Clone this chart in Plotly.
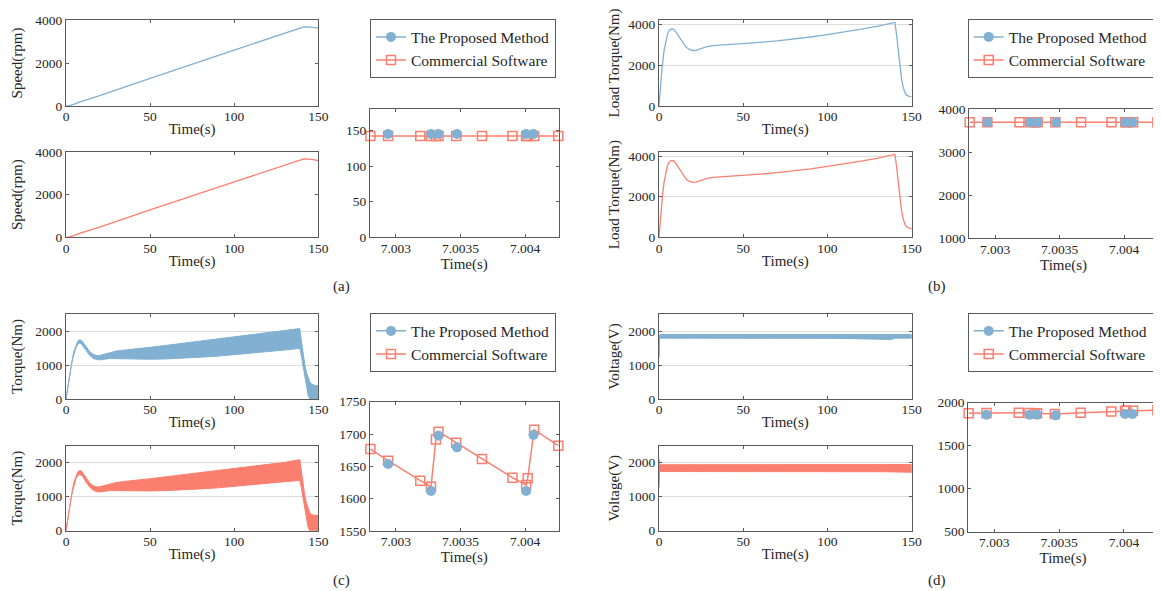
import plotly.graph_objects as go

# page body adds an 8px margin; figure coordinates are laid out in reference pixels minus that offset
OX, OY = 8, 8
W, H = 1161 - OX, 591 - OY
FONT = "Liberation Serif, Times New Roman, serif"
BLUE = "#82B0D2"
RED = "#FA7F6F"
AX = "#5a5a5a"
GRID = "#dcdcdc"

# ---------------- (a) speed ----------------
speed_t = [0, 2, 5, 8, 20, 50, 100, 130, 136, 139, 141, 143, 145, 147, 150]
speed_prop = [0, 20, 90, 180, 480, 1290, 2600, 3390, 3550, 3630, 3665, 3680, 3680, 3660, 3620]
speed_comm = [0, 20, 90, 180, 480, 1290, 2600, 3390, 3550, 3630, 3660, 3675, 3670, 3645, 3590]

# ---------------- (b) load torque ----------------
lt_t = [0, 1, 2, 3, 4, 5, 6, 7, 8, 9, 10, 12, 14, 16, 18, 20, 22, 25, 28, 32, 36, 40, 50, 60,
        70, 80, 90, 100, 110, 120, 130, 140, 141, 142, 143, 144, 145, 146, 147, 148.5, 150]
lt_prop = [0, 1100, 2000, 2700, 3200, 3500, 3680, 3750, 3760, 3720, 3620, 3350, 3080, 2880, 2760,
           2710, 2720, 2800, 2890, 2950, 2970, 2980, 3040, 3110, 3180, 3270, 3370, 3490, 3610, 3750,
           3900, 4080, 3500, 2700, 1900, 1300, 900, 650, 530, 470, 460]
lt_comm = [0, 1100, 2000, 2700, 3200, 3520, 3700, 3780, 3790, 3740, 3640, 3370, 3090, 2880, 2750,
           2700, 2720, 2800, 2890, 2950, 2970, 2980, 3040, 3110, 3180, 3270, 3370, 3490, 3610, 3750,
           3900, 4090, 3500, 2700, 1900, 1300, 900, 650, 520, 450, 430]

# ---------------- (c) electromagnetic torque (ripple envelope) ----------------
tq_t = [0, 1, 2, 3, 4, 5, 6, 7, 8, 9, 10, 12, 14, 16, 18, 20, 23, 26, 30, 35, 40, 50, 60, 70, 80,
        90, 100, 110, 120, 130, 139, 140, 141, 142, 143, 144, 145, 146, 148, 150]
tq_prop_upper = [0, 350, 700, 1000, 1250, 1450, 1600, 1700, 1740, 1730, 1680, 1530, 1400, 1320,
                 1280, 1280, 1320, 1370, 1410, 1440, 1460, 1520, 1580, 1640, 1700, 1760, 1820,
                 1880, 1940, 2000, 2070, 1700, 1300, 1000, 780, 600, 500, 440, 400, 390]
tq_prop_lower = [0, 330, 660, 950, 1190, 1380, 1520, 1610, 1640, 1630, 1580, 1420, 1290, 1200,
                 1160, 1150, 1170, 1190, 1200, 1190, 1180, 1170, 1180, 1200, 1230, 1260, 1300,
                 1340, 1390, 1440, 1490, 1250, 950, 650, 350, 100, 0, 0, 0, 0]
tq_comm_upper = [0, 350, 700, 1000, 1260, 1470, 1630, 1730, 1770, 1760, 1700, 1550, 1410, 1330,
                 1290, 1290, 1330, 1380, 1420, 1450, 1470, 1530, 1590, 1650, 1710, 1770, 1830,
                 1890, 1950, 2010, 2090, 1720, 1320, 1020, 800, 620, 520, 470, 450, 440]
tq_comm_lower = [0, 330, 660, 950, 1190, 1390, 1530, 1620, 1650, 1640, 1590, 1420, 1290, 1200,
                 1150, 1140, 1160, 1180, 1190, 1190, 1180, 1170, 1180, 1200, 1230, 1260, 1300,
                 1340, 1390, 1440, 1480, 1240, 940, 640, 340, 90, 0, 0, 0, 0]

# ---------------- (d) voltage (ripple envelope) ----------------
v_t = [0, 0.4, 1, 20, 50, 80, 110, 125, 132, 138, 140, 141, 145, 150]
v_prop_upper = [1250, 1900, 1900, 1900, 1895, 1895, 1895, 1895, 1900, 1915, 1900, 1900, 1900, 1900]
v_prop_lower = [1200, 1790, 1790, 1790, 1785, 1785, 1780, 1770, 1760, 1750, 1790, 1790, 1790, 1790]
v_comm_upper = [2120, 1940, 1940, 1940, 1935, 1935, 1935, 1935, 1940, 1945, 1940, 1940, 1940, 1945]
v_comm_lower = [1235, 1740, 1740, 1740, 1735, 1735, 1735, 1735, 1735, 1730, 1735, 1735, 1730, 1720]

# ---------------- zoomed windows ----------------
zoom_prop_t = [7.00294, 7.003272, 7.00333, 7.003473, 7.004008, 7.004065]
zoom_comm_t = [7.002803, 7.00294, 7.003189, 7.003272, 7.00331, 7.00333, 7.003467, 7.003666,
               7.003902, 7.004008, 7.00402, 7.00407, 7.004257]
speed_zoom_prop = [145, 145, 145, 145, 145, 145]
speed_zoom_comm = [142] * 13
lt_zoom_prop = [3690, 3690, 3690, 3690, 3690, 3690]
lt_zoom_comm = [3690] * 13
tq_zoom_prop = [1653.6, 1611.8, 1697.4, 1679.4, 1611.8, 1698.5]
tq_zoom_comm = [1676.8, 1658.8, 1627.8, 1618.5, 1691.7, 1703.6, 1686.6, 1661.3, 1632.5, 1621.1,
                1631.4, 1706.7, 1682.0]
v_zoom_prop = [1860, 1860, 1860, 1853, 1868, 1868]
v_zoom_comm = [1876, 1880, 1884, 1880, 1878, 1876, 1868, 1884, 1899, 1905, 1907, 1907, 1915]

zoom_ticks = [7.003, 7.0035, 7.004]
zoom_ticktext = ["7.003", "7.0035", "7.004"]

fig = go.Figure()


def px(x):
    return (x - OX) / W


def py(y):
    return 1 - (y - OY) / H


def add_axes(n, box, xr, yr, ytitle, yticks=None, grid=False, zoom=False, ystand=5):
    x0, x1, y0, y1 = box
    xa = dict(domain=[px(x0), px(x1)], range=xr, anchor="y%d" % n, showline=True, linecolor=AX,
              linewidth=1, mirror="ticks", ticks="inside", ticklen=3, tickcolor=AX, showgrid=False,
              zeroline=False, automargin=False, ticklabelstandoff=-2,
              tickfont=dict(family=FONT, size=13.5, color="#262626"),
              title=dict(text="Time(s)", font=dict(family=FONT, size=15, color="#262626"), standoff=0))
    if zoom:
        xa.update(tickvals=zoom_ticks, ticktext=zoom_ticktext)
    else:
        xa.update(tickvals=[0, 50, 100, 150])
    ya = dict(domain=[py(y1), py(y0)], range=yr, anchor="x%d" % n, showline=True, linecolor=AX,
              linewidth=1, mirror="ticks", ticks="inside", ticklen=3, tickcolor=AX, showgrid=grid,
              gridcolor=GRID, gridwidth=1, zeroline=False, automargin=False,
              tickfont=dict(family=FONT, size=13.5, color="#262626"))
    if yticks is not None:
        ya.update(tickvals=yticks)
    if ytitle:
        ya["title"] = dict(text=ytitle, font=dict(family=FONT, size=15, color="#262626"), standoff=ystand)
    key = "" if n == 1 else str(n)
    fig.layout["xaxis" + key] = xa
    fig.layout["yaxis" + key] = ya


def line(n, t, v, color):
    fig.add_trace(go.Scatter(x=t, y=v, mode="lines", line=dict(color=color, width=1.3),
                             xaxis="x%d" % n, yaxis="y%d" % n, showlegend=False, hoverinfo="skip"))


def band(n, t, up, lo, color):
    fig.add_trace(go.Scatter(x=list(t) + list(t)[::-1], y=list(up) + list(lo)[::-1], mode="lines",
                             fill="toself", fillcolor=color, line=dict(color=color, width=1),
                             xaxis="x%d" % n, yaxis="y%d" % n, showlegend=False, hoverinfo="skip"))


CIRC = dict(symbol="circle", size=10, color=BLUE)
SQ = dict(symbol="square-open", size=9, color=RED, line=dict(width=1.5))


def zoom_traces(n, tp, vp, tc, vc):
    fig.add_trace(go.Scatter(x=tc, y=vc, mode="lines+markers", line=dict(color=RED, width=1.5),
                             marker=SQ, xaxis="x%d" % n, yaxis="y%d" % n, showlegend=False,
                             cliponaxis=False))
    fig.add_trace(go.Scatter(x=tp, y=vp, mode="markers", marker=CIRC,
                             xaxis="x%d" % n, yaxis="y%d" % n, showlegend=False, cliponaxis=False))


def legend_traces(n, lg):
    fig.add_trace(go.Scatter(x=[None], y=[None], mode="lines+markers", name="The Proposed Method",
                             line=dict(color=BLUE, width=1.5), marker=CIRC,
                             xaxis="x%d" % n, yaxis="y%d" % n, legend=lg))
    fig.add_trace(go.Scatter(x=[None], y=[None], mode="lines+markers", name="Commercial Software",
                             line=dict(color=RED, width=1.5), marker=SQ,
                             xaxis="x%d" % n, yaxis="y%d" % n, legend=lg))


zx = [7.0028, 7.00426]

# (a)
add_axes(1, (66, 318.3, 20, 106), [0, 150], [0, 4000], "Speed(rpm)", yticks=[0, 2000, 4000], ystand=9)
add_axes(2, (66, 318.3, 152, 237.3), [0, 150], [0, 4000], "Speed(rpm)", yticks=[0, 2000, 4000], ystand=9)
add_axes(3, (370, 558.7, 109, 237.3), zx, [0, 180], None, yticks=[0, 50, 100, 150], zoom=True)
line(1, speed_t, speed_prop, BLUE)
line(2, speed_t, speed_comm, RED)
zoom_traces(3, zoom_prop_t, speed_zoom_prop, zoom_comm_t, speed_zoom_comm)
legend_traces(3, "legend")

# (b)
add_axes(4, (659, 911.7, 20, 106), [0, 150], [0, 4200], "Load Torque(Nm)", yticks=[0, 2000, 4000], grid=True)
add_axes(5, (659, 911.7, 152, 237.3), [0, 150], [0, 4200], "Load Torque(Nm)", yticks=[0, 2000, 4000], grid=True)
add_axes(6, (969.3, 1157.7, 109, 238.3), zx, [1000, 4000], None, yticks=[1000, 2000, 3000, 4000], zoom=True)
line(4, lt_t, lt_prop, BLUE)
line(5, lt_t, lt_comm, RED)
zoom_traces(6, zoom_prop_t, lt_zoom_prop, zoom_comm_t, lt_zoom_comm)
legend_traces(6, "legend2")

# (c)
add_axes(7, (66, 318.3, 314, 399), [0, 150], [0, 2500], "Torque(Nm)", yticks=[0, 1000, 2000], grid=True, ystand=9)
add_axes(8, (66, 318.3, 445.7, 530.7), [0, 150], [0, 2500], "Torque(Nm)", yticks=[0, 1000, 2000], grid=True, ystand=9)
add_axes(9, (370, 558.7, 401.7, 531), zx, [1550, 1750], None, yticks=[1550, 1600, 1650, 1700, 1750], zoom=True)
band(7, tq_t, tq_prop_upper, tq_prop_lower, BLUE)
band(8, tq_t, tq_comm_upper, tq_comm_lower, RED)
zoom_traces(9, zoom_prop_t, tq_zoom_prop, zoom_comm_t, tq_zoom_comm)
legend_traces(9, "legend3")

# (d)
add_axes(10, (659, 911.7, 314, 399), [0, 150], [0, 2500], "Voltage(V)", yticks=[0, 1000, 2000], grid=True)
add_axes(11, (659, 911.7, 445.7, 530.7), [0, 150], [0, 2500], "Voltage(V)", yticks=[0, 1000, 2000], grid=True)
add_axes(12, (968.3, 1157.7, 402.7, 531.7), zx, [500, 2000], None, yticks=[500, 1000, 1500, 2000], zoom=True)
band(10, v_t, v_prop_upper, v_prop_lower, BLUE)
band(11, v_t, v_comm_upper, v_comm_lower, RED)
zoom_traces(12, zoom_prop_t, v_zoom_prop, zoom_comm_t, v_zoom_comm)
legend_traces(12, "legend4")


def leg(x, y):
    return dict(x=px(x), y=py(y), xanchor="left", yanchor="top", bordercolor=AX, borderwidth=1,
                bgcolor="white", font=dict(family=FONT, size=15.5, color="#262626"),
                itemwidth=30, tracegroupgap=0)


fig.update_layout(
    template="none",
    width=W, height=H, margin=dict(l=0, r=0, t=0, b=0, pad=0, autoexpand=False),
    paper_bgcolor="white", plot_bgcolor="white",
    legend=leg(370, 19.3), legend2=leg(967.7, 19.3), legend3=leg(370, 313.3), legend4=leg(967.7, 313.3),
    font=dict(family=FONT, color="#262626"),
)

for lbl, x, y in [("(a)", 341.7, 286.7), ("(b)", 936.7, 286.7), ("(c)", 341.7, 580), ("(d)", 936.7, 580)]:
    fig.add_annotation(text=lbl, x=px(x), y=py(y), xref="paper", yref="paper", showarrow=False,
                       font=dict(family=FONT, size=15, color="#262626"), xanchor="center", yanchor="middle")

fig.write_html("out.html")
